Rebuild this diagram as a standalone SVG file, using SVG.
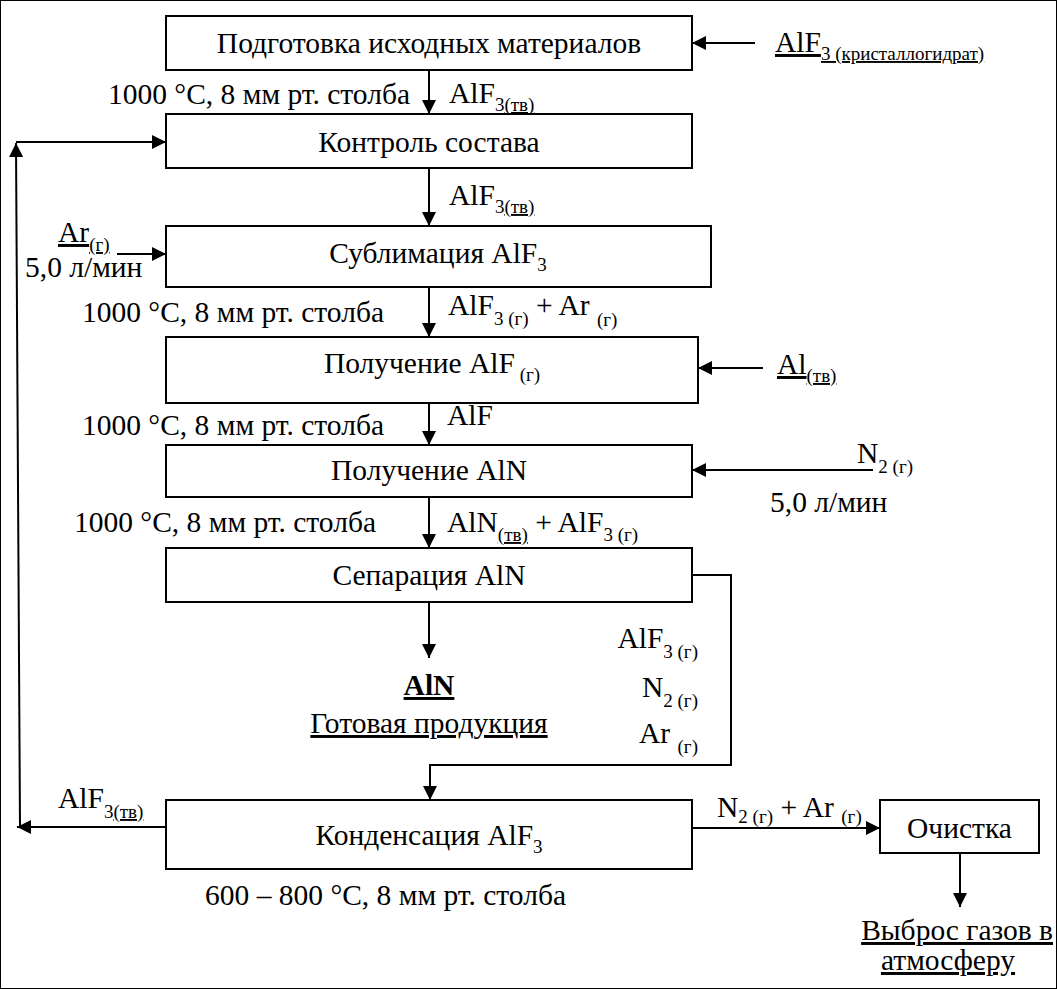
<svg xmlns="http://www.w3.org/2000/svg" width="1057" height="989" viewBox="0 0 1057 989">
<defs>
<marker id="ah" viewBox="0 0 14 14" refX="14" refY="7" markerWidth="14" markerHeight="14" orient="auto" markerUnits="userSpaceOnUse"><path d="M0,0 L14,7 L0,14 z" fill="#000"/></marker>
<style>
text{font-family:"Liberation Serif","Times New Roman",serif;font-size:29.5px;fill:#000}
.s{font-size:19px}
.u{text-decoration:underline}
.c{text-anchor:middle}
.e{text-anchor:end}
rect{fill:#fff;stroke:#000;stroke-width:2}
.ar{fill:none;stroke:#000;stroke-width:2;marker-end:url(#ah)}
</style>
</defs>
<rect width="1057" height="989" fill="#fff" stroke="none"/>
<g id="connectors">
<line class="ar" x1="755" y1="43" x2="692" y2="43"/>
<line class="ar" x1="429" y1="70" x2="429" y2="114"/>
<line class="ar" x1="429" y1="168" x2="429" y2="226"/>
<line class="ar" x1="429" y1="280" x2="429" y2="337"/>
<line class="ar" x1="429" y1="392" x2="429" y2="445"/>
<line class="ar" x1="763" y1="368" x2="698" y2="368"/>
<line class="ar" x1="873" y1="470" x2="692" y2="470"/>
<line class="ar" x1="429" y1="497" x2="429" y2="548"/>
<line class="ar" x1="429" y1="602" x2="429" y2="658"/>
<polyline class="ar" points="692,575 731,575 731,765 430,765 430,800"/>
<line class="ar" x1="166" y1="827" x2="17" y2="827"/>
<line class="ar" x1="20" y1="827" x2="16" y2="143"/>
<line class="ar" x1="16" y1="142" x2="166" y2="142"/>
<line class="ar" x1="117" y1="254" x2="166" y2="254"/>
<line class="ar" x1="692" y1="828" x2="880" y2="828"/>
<line class="ar" x1="960" y1="853" x2="960" y2="907"/>
</g>
<g id="n1"><rect x="166" y="16" width="526" height="54"/><text class="c" x="429" y="53">Подготовка исходных материалов</text></g>
<g id="n2"><rect x="166" y="114" width="526" height="54"/><text class="c" x="429" y="152">Контроль состава</text></g>
<g id="n3"><rect x="166" y="226" width="545" height="61"/><text class="c" x="438" y="263">Сублимация AlF<tspan class="s" dy="8">3</tspan></text></g>
<g id="n4"><rect x="166" y="337" width="532" height="66"/><text class="c" x="432" y="373">Получение AlF<tspan class="s" dy="8"> (г)</tspan></text></g>
<g id="n5"><rect x="166" y="445" width="526" height="52"/><text class="c" x="429" y="480">Получение AlN</text></g>
<g id="n6"><rect x="166" y="548" width="526" height="54"/><text class="c" x="429" y="585">Сепарация AlN</text></g>
<g id="n7"><rect x="166" y="800" width="526" height="69"/><text class="c" x="429" y="845">Конденсация AlF<tspan class="s" dy="8">3</tspan></text></g>
<g id="n8"><rect x="880" y="800" width="159" height="53"/><text class="c" x="959.5" y="838">Очистка</text></g>
<g id="labels">
<text x="775" y="52"><tspan class="u">AlF</tspan><tspan class="s u" dy="8">3 (кристаллогидрат)</tspan></text>
<text class="e" x="410" y="104">1000 °C, 8 мм рт. столба</text>
<text x="449" y="103">AlF<tspan class="s" dy="8">3</tspan><tspan class="s u">(тв)</tspan></text>
<text x="449" y="205">AlF<tspan class="s" dy="8">3</tspan><tspan class="s u">(тв)</tspan></text>
<text x="58" y="242"><tspan class="u">Ar</tspan><tspan class="s u" dy="9">(г)</tspan></text>
<text x="25" y="277">5,0 л/мин</text>
<text class="e" x="384" y="322">1000 °C, 8 мм рт. столба</text>
<text x="448" y="315">AlF<tspan class="s" dy="10">3 (г)</tspan><tspan dy="-10"> + Ar </tspan><tspan class="s" dy="11">(г)</tspan></text>
<text x="777" y="374"><tspan class="u">Al</tspan><tspan class="s u" dy="8">(тв)</tspan></text>
<text class="e" x="384" y="435">1000 °C, 8 мм рт. столба</text>
<text x="447" y="425">AlF</text>
<text x="857" y="463">N<tspan class="s" dy="10">2 (г)</tspan></text>
<text x="770" y="512">5,0 л/мин</text>
<text class="e" x="376" y="532">1000 °C, 8 мм рт. столба</text>
<text x="447" y="532">AlN<tspan class="s u" dy="9">(тв)</tspan><tspan dy="-9"> + AlF</tspan><tspan class="s" dy="9">3 (г)</tspan></text>
<text class="c u" x="429" y="695" font-weight="bold">AlN</text>
<text class="c u" x="429" y="733">Готовая продукция</text>
<text class="e" x="698" y="648">AlF<tspan class="s" dy="10">3 (г)</tspan></text>
<text class="e" x="698" y="697">N<tspan class="s" dy="10">2 (г)</tspan></text>
<text class="e" x="698" y="743">Ar <tspan class="s" dy="10">(г)</tspan></text>
<text x="58" y="808">AlF<tspan class="s" dy="10">3</tspan><tspan class="s u">(тв)</tspan></text>
<text x="717" y="817">N<tspan class="s" dy="6">2 (г)</tspan><tspan dy="-6"> + Ar </tspan><tspan class="s" dy="6">(г)</tspan></text>
<text x="205" y="905">600 – 800 °C, 8 мм рт. столба</text>
<text class="e u" x="1053" y="940">Выброс газов в</text>
<text class="c u" x="948" y="970">атмосферу</text>
</g>
</svg>
